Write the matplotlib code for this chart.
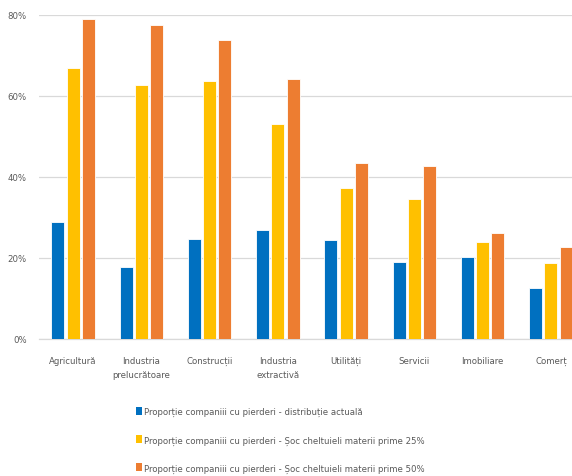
import matplotlib
matplotlib.use("Agg")
import matplotlib.pyplot as plt
from matplotlib.patches import Patch
from matplotlib.ticker import FuncFormatter
from matplotlib import font_manager
import numpy as np

categories = ["Agricultură", "Industria\nprelucrătoare", "Construcții", "Industria\nextractivă",
              "Utilități", "Servicii", "Imobiliare", "Comerț"]
actual = [28.9, 17.7, 24.7, 26.9, 24.5, 19.1, 20.3, 12.7]
shock25 = [67.0, 62.8, 63.7, 53.2, 37.4, 34.6, 23.9, 18.7]
shock50 = [79.0, 77.5, 73.8, 64.2, 43.4, 42.8, 26.1, 22.6]
series_labels = [
    "Proporție companiii cu pierderi - distribuție actuală",
    "Proporție companiii cu pierderi - Șoc cheltuieli materii prime 25%",
    "Proporție companiii cu pierderi - Șoc cheltuieli materii prime 50%",
]
colors = ["#0070C0", "#FFC000", "#ED7D31"]

names = {f.name for f in font_manager.fontManager.ttflist}
if "Liberation Sans Narrow" in names:
    plt.rcParams['font.family'] = ['Liberation Sans Narrow', 'DejaVu Sans']
    fs = 8.1
else:
    plt.rcParams['font.family'] = ['DejaVu Sans']
    plt.rcParams['font.stretch'] = 'condensed'
    fs = 6.8

W, H = 572, 477
fig = plt.figure(figsize=(W/100, H/100), dpi=100)
left, right = 39, 585
top, bottom = 16, 340
ax = fig.add_axes([left/W, 1 - bottom/H, (right-left)/W, (bottom-top)/H])

x = np.arange(len(categories))
step = 0.222
bw = 0.19
for i, (vals, c) in enumerate(zip([actual, shock25, shock50], colors)):
    ax.bar(x + (i-1)*step, vals, width=bw, color=c, edgecolor="white", linewidth=0.6, zorder=3)

ax.set_xlim(-0.5, len(categories)-0.5)
ax.set_ylim(0, 80)
ax.set_yticks([0, 20, 40, 60, 80])
ax.yaxis.set_major_formatter(FuncFormatter(lambda v, p: f"{int(v)}%"))
ax.grid(axis="y", color="#D9D9D9", linewidth=0.9, zorder=0)
for s in ["top", "right", "left"]:
    ax.spines[s].set_visible(False)
ax.spines["bottom"].set_color("#D9D9D9")
ax.spines["bottom"].set_linewidth(0.9)
ax.tick_params(axis="y", length=0, pad=9, labelsize=fs, labelcolor="#595959")
ax.tick_params(axis="x", length=0, pad=12, labelsize=fs, labelcolor="#595959")
ax.set_xticks(x)
ax.set_xticklabels(categories, linespacing=1.8)

handles = [Patch(facecolor=c, edgecolor="none") for c in colors]
fig.legend(handles, series_labels, loc="upper left", bbox_to_anchor=(136/W, 1 - 408/H),
           frameon=False, fontsize=fs, labelcolor="#595959", handlelength=0.6, handleheight=0.9,
           handletextpad=0.3, labelspacing=2.0, borderpad=0, borderaxespad=0)

fig.savefig("out.png", dpi=100)
